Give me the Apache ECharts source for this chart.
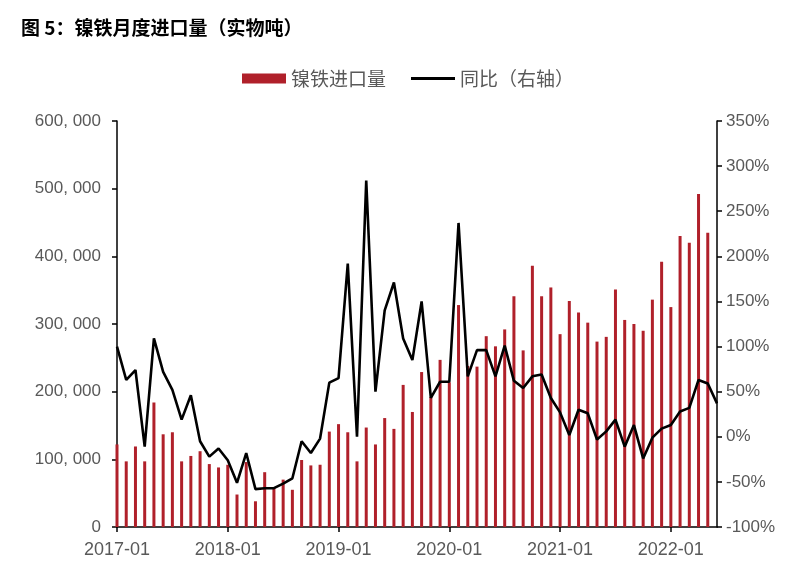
<!DOCTYPE html>
<html><head><meta charset="utf-8">
<script src="https://cdn.jsdelivr.net/npm/echarts@6/dist/echarts.min.js"></script>
<style>html,body{margin:0;padding:0;background:#fff}#c{width:800px;height:581px}</style>
</head><body><div id="c"></div>
<script>
const months = [
 '2017-01','2017-02','2017-03','2017-04','2017-05','2017-06','2017-07','2017-08','2017-09','2017-10','2017-11','2017-12',
 '2018-01','2018-02','2018-03','2018-04','2018-05','2018-06','2018-07','2018-08','2018-09','2018-10','2018-11','2018-12',
 '2019-01','2019-02','2019-03','2019-04','2019-05','2019-06','2019-07','2019-08','2019-09','2019-10','2019-11','2019-12',
 '2020-01','2020-02','2020-03','2020-04','2020-05','2020-06','2020-07','2020-08','2020-09','2020-10','2020-11','2020-12',
 '2021-01','2021-02','2021-03','2021-04','2021-05','2021-06','2021-07','2021-08','2021-09','2021-10','2021-11','2021-12',
 '2022-01','2022-02','2022-03','2022-04','2022-05','2022-06'
];
// 镍铁进口量（实物吨）
const importVolume = [
 122000, 97000,119000, 97000,184000,137000,140000, 97000,105000,112000, 93000, 88000,
  92000, 48000, 96000, 38000, 81000, 58000, 70000, 55000, 99000, 91000, 92000,141000,
 152000,140000, 97000,147000,122000,161000,145000,210000,170000,229000,192000,247000,
 214000,328000,238000,237000,282000,267000,292000,341000,261000,386000,341000,354000,
 285000,334000,317000,302000,274000,281000,351000,306000,300000,290000,336000,392000,
 325000,430000,420000,492000,435000,null
];
// 同比（%）
const yoyPct = [
 100, 63, 74,-11,109, 72, 52, 19, 46, -5,-22,-13,
 -26,-51,-18,-58,-57,-57,-52,-46, -5,-18, -2, 60,
  65,192,  0,284, 50,140,171,109, 85,150, 43, 61,
  61,237, 67, 96, 96, 67,101, 62, 54, 67, 69, 43,
  27,  2, 30, 26, -3,  6, 19,-11, 13,-24, -1,  9,
  13, 28, 32, 63, 59, 37
];
const leftTickLabels = ['0','100, 000','200, 000','300, 000','400, 000','500, 000','600, 000'];
const rightTickLabels = ['-100%','-50%','0%','50%','100%','150%','200%','250%','300%','350%'];

const chart = echarts.init(document.getElementById('c'), null, {renderer:'canvas'});
const gray = '#595959';
const numFont = "'Liberation Sans', Arial, sans-serif";
const cjkFont = "'Noto Sans CJK SC', sans-serif";
chart.setOption({
  animation:false,
  backgroundColor:'#fff',
  title:{
    text:'图 5：镍铁月度进口量（实物吨）',
    left:16, top:13,
    textStyle:{fontSize:19, fontWeight:'bold', color:'#000', fontFamily:cjkFont}
  },
  legend:{
    left:237, top:64,
    itemWidth:44, itemHeight:10, itemGap:25,
    textStyle:{fontSize:19, color:gray, fontFamily:cjkFont},
    data:[
      {name:'镍铁进口量', icon:'rect'},
      {name:'同比（右轴）', icon:'path://M0,0 L0.01,0 L0,0.01 Z M0,3.6 L44,3.6 L44,6.4 L0,6.4 Z M44,10 L43.99,10 L44,9.99 Z',
       itemStyle:{color:'#000'}}
    ]
  },
  grid:{left:117, right:83, top:121, bottom:54},
  xAxis:{
    type:'category', data:months, boundaryGap:false,
    axisLine:{lineStyle:{color:'#000', width:1.5}},
    axisTick:{interval:11, length:5, lineStyle:{color:'#000', width:1.5}},
    axisLabel:{interval:11, color:gray, fontSize:18, fontFamily:numFont, margin:14}
  },
  yAxis:[
    {type:'value', min:0, max:600000, interval:100000, position:'left',
     axisLine:{show:true, lineStyle:{color:'#000', width:1.5}},
     axisTick:{show:true, length:5, lineStyle:{color:'#000', width:1.5}},
     splitLine:{show:false},
     axisLabel:{color:gray, fontSize:17, fontFamily:numFont, margin:16,
       formatter:(v)=>leftTickLabels[Math.round(v/100000)]}
    },
    {type:'value', min:-100, max:350, interval:50, position:'right',
     axisLine:{show:true, lineStyle:{color:'#000', width:1.5}},
     axisTick:{show:true, length:5, lineStyle:{color:'#000', width:1.5}},
     splitLine:{show:false},
     axisLabel:{color:gray, fontSize:17, fontFamily:numFont, margin:9,
       formatter:(v)=>rightTickLabels[Math.round((v+100)/50)]}
    }
  ],
  series:[
    {name:'镍铁进口量', type:'bar', data:importVolume, yAxisIndex:0,
     barWidth:3, itemStyle:{color:'#b0202a'}},
    {name:'同比（右轴）', type:'line', data:yoyPct, yAxisIndex:1,
     symbol:'none', lineStyle:{color:'#000', width:2.6}, itemStyle:{color:'#000'}}
  ]
});
</script></body></html>
